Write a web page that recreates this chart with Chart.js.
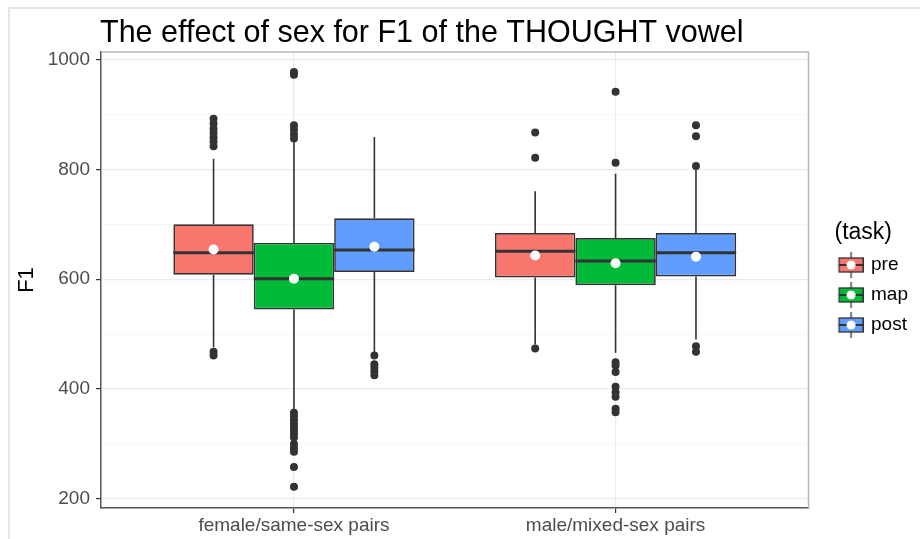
<!DOCTYPE html>
<html>
<head>
<meta charset="utf-8">
<script src="https://cdn.jsdelivr.net/npm/chart.js@4/dist/chart.umd.min.js"></script>
<style>
  html, body { margin: 0; padding: 0; background: #fff; }
  #wrap { position: relative; width: 920px; height: 539px; overflow: hidden; }
  #frame { position: absolute; left: 8px; top: 7px; right: -4px; bottom: -4px; border-left: 2px solid #e6e6e6; border-top: 2px solid #e6e6e6; }
  #chart { position: absolute; left: 0; top: 0; }
</style>
</head>
<body>
<div id="wrap"><div id="frame"></div><canvas id="chart" width="920" height="539"></canvas></div>
<script>
const categories = ['female/same-sex pairs', 'male/mixed-sex pairs'];
const tasks = ['pre', 'map', 'post'];
const taskColors = ['#F8766D', '#00BA38', '#619CFF'];

// one row per task (pre, map, post), one value per category
const lowerWhisker = [[476, 481], [362, 466], [466, 490]];
const q1 = [[608, 603], [545, 589], [613, 605]];
const medians = [[648, 651], [601, 633], [653, 648]];
const q3 = [[700, 684], [666, 675], [711, 684]];
const upperWhisker = [[819, 760], [852, 792], [859, 799]];
const means = [[654, 643], [601, 629], [659, 641]];
const outliers = [
  [[892, 883, 874, 866, 858, 850, 842, 468, 461], [867, 821, 474]],
  [[977, 972, 880, 872, 864, 856, 357, 350, 343, 336, 330, 324, 318, 312, 300, 293, 286, 258, 222],
   [941, 812, 449, 443, 431, 404, 394, 386, 364, 358]],
  [[461, 445, 439, 432, 425], [880, 860, 806, 478, 468]]
];

const yTicks = [200, 300, 400, 500, 600, 700, 800, 900, 1000];
const dodge = [-0.25, 0, 0.25];

Chart.defaults.font.family = '"Liberation Sans", Arial, sans-serif';

// small box-plot glyph for each legend entry
const keyImages = taskColors.map(c => {
  const cv = document.createElement('canvas');
  cv.width = 46;
  cv.height = 26;
  const g = cv.getContext('2d');
  const x0 = 21.5, w = 24, cx = x0 + w / 2;
  g.strokeStyle = '#333';
  g.lineWidth = 1.3;
  g.beginPath(); g.moveTo(cx, 0); g.lineTo(cx, 26); g.stroke();
  g.fillStyle = c;
  g.fillRect(x0, 6, w, 14);
  g.strokeRect(x0, 6, w, 14);
  g.lineWidth = 2;
  g.beginPath(); g.moveTo(x0, 13); g.lineTo(x0 + w, 13); g.stroke();
  g.fillStyle = '#fff';
  g.beginPath(); g.arc(cx, 13, 4.5, 0, Math.PI * 2); g.fill();
  return cv;
});

const boxDatasets = tasks.map((t, i) => ({
  type: 'bar',
  label: t,
  order: 3,
  data: categories.map((c, j) => ({ x: j + 1, y: [q1[i][j], q3[i][j]] })),
  backgroundColor: taskColors[i],
  borderColor: '#333',
  borderWidth: 1.7,
  borderSkipped: false,
  categoryPercentage: 0.75,
  barPercentage: 1
}));

const outlierPoints = [];
const meanPoints = [];
tasks.forEach((t, i) => {
  categories.forEach((c, j) => {
    outliers[i][j].forEach(v => outlierPoints.push({ x: j + 1 + dodge[i], y: v }));
    meanPoints.push({ x: j + 1 + dodge[i], y: means[i][j] });
  });
});

const boxPlot = {
  id: 'boxPlot',
  beforeDatasetsDraw(chart) {
    const { ctx, chartArea: a } = chart;
    ctx.save();
    ctx.strokeStyle = '#b8b8b8';
    ctx.lineWidth = 1.5;
    ctx.beginPath();
    ctx.moveTo(a.left, a.top);
    ctx.lineTo(a.right, a.top);
    ctx.lineTo(a.right, a.bottom);
    ctx.stroke();
    ctx.restore();
  },
  beforeDatasetDraw(chart, args) {
    const i = args.index;
    if (i > 2) return;
    const ctx = chart.ctx, y = chart.scales.y;
    ctx.save();
    ctx.strokeStyle = '#333';
    ctx.lineWidth = 1.6;
    args.meta.data.forEach((bar, j) => {
      ctx.beginPath();
      ctx.moveTo(bar.x, y.getPixelForValue(upperWhisker[i][j]));
      ctx.lineTo(bar.x, y.getPixelForValue(q3[i][j]));
      ctx.moveTo(bar.x, y.getPixelForValue(q1[i][j]));
      ctx.lineTo(bar.x, y.getPixelForValue(lowerWhisker[i][j]));
      ctx.stroke();
    });
    ctx.restore();
  },
  afterDatasetDraw(chart, args) {
    const i = args.index;
    if (i > 2) return;
    const ctx = chart.ctx, y = chart.scales.y;
    ctx.save();
    ctx.strokeStyle = '#333';
    ctx.lineWidth = 3;
    args.meta.data.forEach((bar, j) => {
      const py = y.getPixelForValue(medians[i][j]);
      ctx.beginPath();
      ctx.moveTo(bar.x - bar.width / 2, py);
      ctx.lineTo(bar.x + bar.width / 2, py);
      ctx.stroke();
    });
    ctx.restore();
  },
  afterDraw(chart) {
    const ctx = chart.ctx;
    ctx.save();
    ctx.fillStyle = '#000';
    ctx.font = '30.5px "Liberation Sans", Arial, sans-serif';
    ctx.textBaseline = 'alphabetic';
    ctx.fillText('The effect of sex for F1 of the THOUGHT vowel', chart.chartArea.left - 1, 42);
    ctx.restore();
  }
};

new Chart(document.getElementById('chart'), {
  type: 'bar',
  data: {
    datasets: [
      ...boxDatasets,
      {
        type: 'scatter',
        label: 'outliers',
        order: 2,
        data: outlierPoints,
        pointRadius: 4,
        backgroundColor: '#333',
        borderWidth: 0
      },
      {
        type: 'scatter',
        label: 'mean',
        order: 1,
        data: meanPoints,
        pointRadius: 5,
        backgroundColor: '#fff',
        borderWidth: 0
      }
    ]
  },
  options: {
    responsive: false,
    animation: false,
    devicePixelRatio: 1,
    events: [],
    layout: { padding: { top: 52, left: 10, right: 2, bottom: 0 } },
    scales: {
      x: {
        type: 'linear',
        position: 'bottom',
        min: 0.4,
        max: 2.6,
        offset: false,
        afterBuildTicks: s => { s.ticks = [{ value: 1 }, { value: 2 }]; },
        afterFit: s => { s.height = 31; },
        grid: { offset: false, color: '#ebebeb', lineWidth: 1.2, tickLength: 5, tickColor: '#333', tickWidth: 1.2 },
        border: { color: '#555', width: 1.5 },
        ticks: {
          callback: v => categories[v - 1],
          color: '#4d4d4d',
          font: { size: 19 },
          padding: 1,
          maxRotation: 0,
          autoSkip: false
        }
      },
      y: {
        type: 'linear',
        min: 183.5,
        max: 1013.5,
        beginAtZero: false,
        afterBuildTicks: s => { s.ticks = yTicks.map(v => ({ value: v })); },
        afterFit: s => { s.width = 91; },
        grid: {
          color: c => (c.tick && c.tick.value % 200) ? '#f3f3f3' : '#ebebeb',
          lineWidth: c => (c.tick && c.tick.value % 200) ? 0.7 : 1.2,
          tickColor: c => (c.tick && c.tick.value % 200) ? 'rgba(0,0,0,0)' : '#333',
          tickWidth: 1.2,
          tickLength: 5
        },
        border: { color: '#555', width: 1.5 },
        ticks: {
          callback: v => (v % 200 === 0 ? v : ''),
          color: '#4d4d4d',
          font: { size: 19 },
          padding: 6
        },
        title: {
          display: true,
          text: 'F1',
          color: '#000',
          font: { size: 22 },
          padding: { top: 4, bottom: 0 }
        }
      }
    },
    plugins: {
      title: { display: false },
      tooltip: { enabled: false },
      legend: {
        position: 'right',
        fullSize: false,
        title: {
          display: true,
          text: '(task)',
          color: '#000',
          font: { size: 23, lineHeight: 1 },
          padding: { top: 7, bottom: 0 }
        },
        labels: {
          usePointStyle: true,
          pointStyleWidth: 42,
          padding: 11,
          color: '#000',
          font: { size: 19 },
          generateLabels: () => tasks.map((t, i) => ({
            text: t,
            pointStyle: keyImages[i],
            fillStyle: taskColors[i],
            strokeStyle: 'rgba(0,0,0,0)',
            lineWidth: 0,
            hidden: false,
            datasetIndex: i
          }))
        }
      }
    }
  },
  plugins: [boxPlot]
});
</script>
</body>
</html>
